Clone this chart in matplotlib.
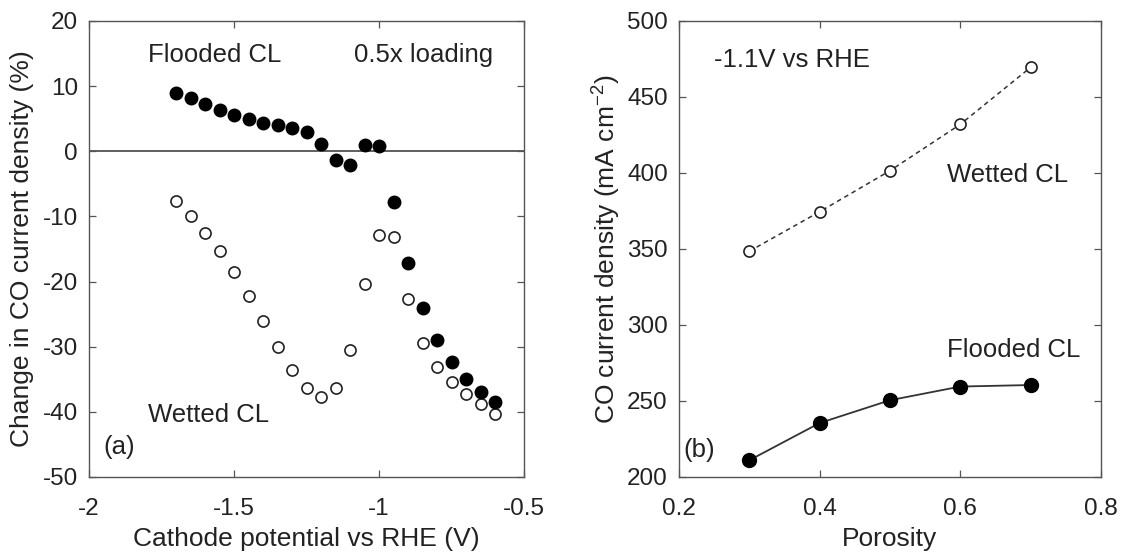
import numpy as np
import matplotlib
matplotlib.use("Agg")
import matplotlib.pyplot as plt

plt.rcParams['font.family'] = ['Liberation Sans', 'DejaVu Sans']

# panel (a): change in CO current density vs cathode potential
potential = [-1.70, -1.65, -1.60, -1.55, -1.50, -1.45, -1.40, -1.35, -1.30, -1.25,
             -1.20, -1.15, -1.10, -1.05, -1.00, -0.95, -0.90, -0.85, -0.80, -0.75,
             -0.70, -0.65, -0.60]
flooded_change = [9.0, 8.1, 7.2, 6.3, 5.5, 4.9, 4.3, 4.0, 3.6, 2.9,
                  1.1, -1.3, -2.1, 1.0, 0.8, -7.8, -17.2, -24.1, -28.9, -32.3,
                  -34.9, -37.0, -38.5]
wetted_change = [-7.6, -9.9, -12.5, -15.3, -18.6, -22.2, -26.0, -30.0, -33.6, -36.4,
                 -37.7, -36.4, -30.5, -20.3, -12.8, -13.2, -22.7, -29.4, -33.1, -35.4,
                 -37.2, -38.8, -40.3]

# panel (b): CO current density vs porosity at -1.1 V
porosity = [0.3, 0.4, 0.5, 0.6, 0.7]
wetted_j = [348.5, 374.5, 401.5, 432.0, 469.5]
flooded_j = [211.0, 235.5, 250.5, 259.5, 260.5]

spine_col = '#555555'
fs_tick = 17.5
fs_lab = 19
fs_txt = 18.5

fig = plt.figure(figsize=(11.23, 5.52), dpi=100)
ax1 = fig.add_axes([0.0793, 0.1359, 0.3874, 0.8261])
ax2 = fig.add_axes([0.6046, 0.1359, 0.3758, 0.8261])


def style_axes(ax):
    for s in ax.spines.values():
        s.set_color(spine_col)
        s.set_linewidth(1.0)
    ax.tick_params(direction='in', top=True, right=True, length=5, width=0.9,
                   color=spine_col, labelsize=fs_tick, labelcolor='#222222')
    ax.tick_params(axis='x', pad=15)
    ax.tick_params(axis='y', pad=8)


# ---- (a)
ax1.axhline(0, color='#444444', lw=1.2, zorder=1)
ax1.plot(potential, wetted_change, 'o', ms=8, mfc='white', mec='#222222', mew=1.2, zorder=3)
ax1.plot(potential, flooded_change, 'o', ms=9, mfc='black', mec='black', zorder=4)
ax1.set_xlim(-2, -0.5)
ax1.set_ylim(-50, 20)
ax1.set_xticks([-2, -1.5, -1, -0.5])
ax1.set_xticklabels(['-2', '-1.5', '-1', '-0.5'])
ax1.set_yticks(np.arange(-50, 21, 10))
ax1.set_yticklabels([str(v) for v in range(-50, 21, 10)])
ax1.set_xlabel('Cathode potential vs RHE (V)', fontsize=fs_lab, color='#222222', labelpad=5)
ax1.set_ylabel('Change in CO current density (%)', fontsize=fs_lab, color='#222222', labelpad=6)
style_axes(ax1)
ax1.text(-1.797, 14.8, 'Flooded CL', fontsize=fs_txt, va='center', ha='left', color='#222222')
ax1.text(-0.607, 14.8, '0.5x loading', fontsize=fs_txt, va='center', ha='right', color='#222222')
ax1.text(-1.797, -40.5, 'Wetted CL', fontsize=fs_txt, va='center', ha='left', color='#222222')
ax1.text(-1.95, -45.4, '(a)', fontsize=fs_txt, va='center', ha='left', color='#222222')

# ---- (b)
ax2.plot(porosity, wetted_j, '--o', color='#333333', lw=1.1, ms=8, mfc='white',
         mec='#222222', mew=1.2, dashes=(3, 2.5))
ax2.plot(porosity, flooded_j, '-o', color='#333333', lw=1.3, ms=10, mfc='black', mec='black')
ax2.set_xlim(0.2, 0.8)
ax2.set_ylim(200, 500)
ax2.set_xticks([0.2, 0.4, 0.6, 0.8])
ax2.set_yticks(np.arange(200, 501, 50))
ax2.set_xlabel('Porosity', fontsize=fs_lab, color='#222222', labelpad=5)
ax2.set_ylabel('CO current density (mA cm$^{\\mathregular{-2}}$)', fontsize=fs_lab,
               color='#222222', labelpad=4)
style_axes(ax2)
ax2.text(0.25, 474.5, '-1.1V vs RHE', fontsize=fs_txt, va='center', ha='left', color='#222222')
ax2.text(0.581, 398.5, 'Wetted CL', fontsize=fs_txt, va='center', ha='left', color='#222222')
ax2.text(0.581, 283.5, 'Flooded CL', fontsize=fs_txt, va='center', ha='left', color='#222222')
ax2.text(0.206, 218, '(b)', fontsize=fs_txt, va='center', ha='left', color='#222222')

fig.savefig('out.png', dpi=100)
